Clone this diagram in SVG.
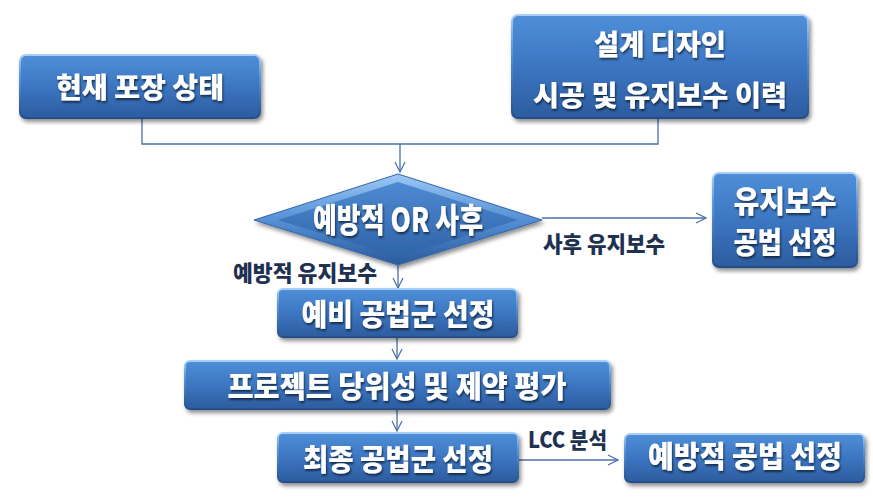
<svg xmlns="http://www.w3.org/2000/svg" width="873" height="500" viewBox="0 0 873 500">
  <defs>
    <linearGradient id="boxFill" x1="0" y1="0" x2="0" y2="1">
      <stop offset="0" stop-color="#4f8fd8"/>
      <stop offset="0.5" stop-color="#3c76c2"/>
      <stop offset="1" stop-color="#2c5c9e"/>
    </linearGradient>
    <linearGradient id="rim" x1="0" y1="0" x2="0" y2="1">
      <stop offset="0" stop-color="#a9d0f7"/>
      <stop offset="0.3" stop-color="#5f9be0"/>
      <stop offset="1" stop-color="#244e8a"/>
    </linearGradient>
    <linearGradient id="diaOuter" x1="0" y1="0" x2="0" y2="1">
      <stop offset="0" stop-color="#9cc8f4"/>
      <stop offset="0.5" stop-color="#5590d6"/>
      <stop offset="1" stop-color="#2a5a9c"/>
    </linearGradient>
    <linearGradient id="diaInner" x1="0" y1="0" x2="0" y2="1">
      <stop offset="0" stop-color="#4e8ad2"/>
      <stop offset="1" stop-color="#2f63a8"/>
    </linearGradient>
    <filter id="shadow" x="-10%" y="-10%" width="125%" height="135%">
      <feGaussianBlur in="SourceAlpha" stdDeviation="2"/>
      <feOffset dx="2" dy="3" result="b"/>
      <feComponentTransfer><feFuncA type="linear" slope="0.45"/></feComponentTransfer>
      <feMerge><feMergeNode/><feMergeNode in="SourceGraphic"/></feMerge>
    </filter>
    <filter id="tshadow" x="-5%" y="-10%" width="110%" height="130%">
      <feGaussianBlur in="SourceAlpha" stdDeviation="0.8"/>
      <feOffset dx="1" dy="1.5"/>
      <feComponentTransfer><feFuncA type="linear" slope="0.6"/></feComponentTransfer>
      <feMerge><feMergeNode/><feMergeNode in="SourceGraphic"/></feMerge>
    </filter>
    <marker id="arrow" viewBox="0 0 12 12" refX="11" refY="6" markerWidth="12" markerHeight="12" markerUnits="userSpaceOnUse" orient="auto">
      <path d="M1,1 L11,6 L1,11" fill="none" stroke="#4a6fa8" stroke-width="1.2"/>
    </marker>
  </defs>
  <style>
    .box { fill: url(#boxFill); stroke: url(#rim); stroke-width: 2; }
    .t { font-family: "Noto Sans CJK KR", "Noto Sans", sans-serif; font-weight: 900; fill: #ffffff; text-anchor: middle; }
    .lbl { font-family: "Noto Sans CJK KR", "Noto Sans", sans-serif; font-weight: 900; fill: #1f3150; font-size: 22px; }
    .conn { fill: none; stroke: #4a6fa8; stroke-width: 1.3; }
  </style>

  <g id="connectors">
    <path class="conn" d="M142,118 V144 H658 V118"/>
    <path class="conn" d="M400,144 V172" marker-end="url(#arrow)"/>
    <path class="conn" d="M542,218 H706" marker-end="url(#arrow)"/>
    <path class="conn" d="M398,265 V288" marker-end="url(#arrow)"/>
    <path class="conn" d="M397,337 V359" marker-end="url(#arrow)"/>
    <path class="conn" d="M397,409 V431" marker-end="url(#arrow)"/>
    <path class="conn" d="M518,460 H618" marker-end="url(#arrow)"/>
    <text class="lbl" x="543" y="252" textLength="122" lengthAdjust="spacingAndGlyphs">사후 유지보수</text>
    <text class="lbl" x="233" y="281" textLength="144" lengthAdjust="spacingAndGlyphs">예방적 유지보수</text>
    <text class="lbl" x="528" y="448" font-size="20" textLength="79" lengthAdjust="spacingAndGlyphs">LCC 분석</text>
  </g>

  <g id="current" filter="url(#shadow)">
    <rect class="box" x="20" y="55" width="240" height="63" rx="6"/>
    <text class="t" x="140" y="98" font-size="28" textLength="168" lengthAdjust="spacingAndGlyphs" filter="url(#tshadow)">현재 포장 상태</text>
  </g>

  <g id="history" filter="url(#shadow)">
    <rect class="box" x="512" y="15" width="296" height="103" rx="6"/>
    <text class="t" x="660" y="55" font-size="28" textLength="132" lengthAdjust="spacingAndGlyphs" filter="url(#tshadow)">설계 디자인</text>
    <text class="t" x="660" y="106" font-size="28" textLength="254" lengthAdjust="spacingAndGlyphs" filter="url(#tshadow)">시공 및 유지보수 이력</text>
  </g>

  <g id="decision" filter="url(#shadow)">
    <polygon points="398,174 542,220 398,265 254,220" fill="url(#diaOuter)" stroke="#3566a8" stroke-width="1"/>
    <polygon points="398,182 518,220 398,257 278,220" fill="url(#diaInner)"/>
    <text class="t" x="398" y="232" font-size="33" textLength="170" lengthAdjust="spacingAndGlyphs" filter="url(#tshadow)">예방적 OR 사후</text>
  </g>

  <g id="repair" filter="url(#shadow)">
    <rect class="box" x="713" y="173" width="144" height="94" rx="6"/>
    <text class="t" x="785" y="212" font-size="30" textLength="103" lengthAdjust="spacingAndGlyphs" filter="url(#tshadow)">유지보수</text>
    <text class="t" x="785" y="253" font-size="30" textLength="103" lengthAdjust="spacingAndGlyphs" filter="url(#tshadow)">공법 선정</text>
  </g>

  <g id="prelim" filter="url(#shadow)">
    <rect class="box" x="278" y="289" width="239" height="48" rx="5"/>
    <text class="t" x="398" y="325" font-size="30" textLength="193" lengthAdjust="spacingAndGlyphs" filter="url(#tshadow)">예비 공법군 선정</text>
  </g>

  <g id="evaluate" filter="url(#shadow)">
    <rect class="box" x="185" y="361" width="425" height="48" rx="5"/>
    <text class="t" x="397" y="397" font-size="30" textLength="339" lengthAdjust="spacingAndGlyphs" filter="url(#tshadow)">프로젝트 당위성 및 제약 평가</text>
  </g>

  <g id="final" filter="url(#shadow)">
    <rect class="box" x="278" y="433" width="240" height="49" rx="5"/>
    <text class="t" x="398" y="470" font-size="30" textLength="190" lengthAdjust="spacingAndGlyphs" filter="url(#tshadow)">최종 공법군 선정</text>
  </g>

  <g id="preventive" filter="url(#shadow)">
    <rect class="box" x="625" y="434" width="239" height="48" rx="5"/>
    <text class="t" x="745" y="467" font-size="30" textLength="194" lengthAdjust="spacingAndGlyphs" filter="url(#tshadow)">예방적 공법 선정</text>
  </g>
</svg>
